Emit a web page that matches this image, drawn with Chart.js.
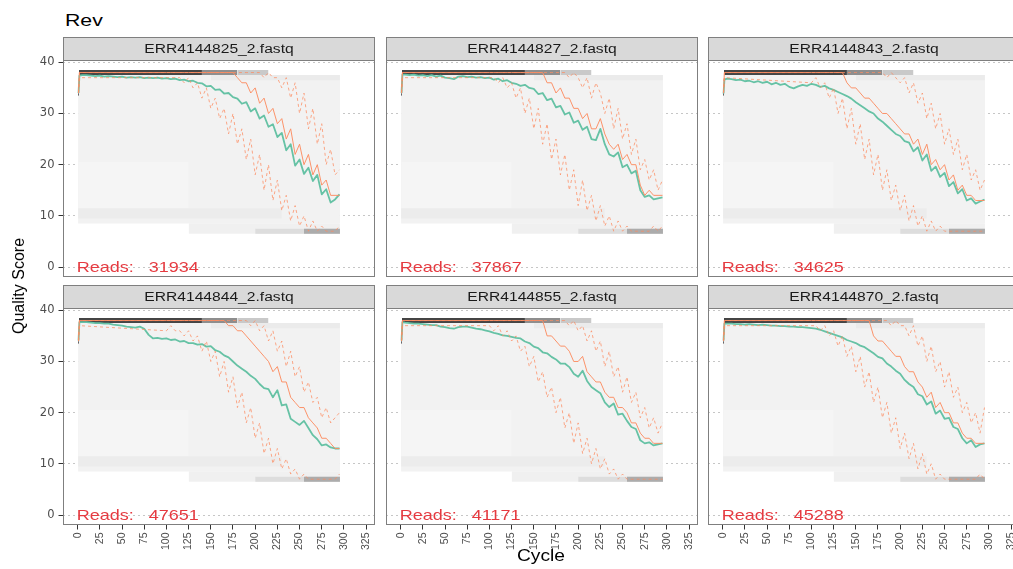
<!DOCTYPE html>
<html>
<head>
<meta charset="utf-8">
<script src="https://cdn.jsdelivr.net/npm/chart.js@4.4.1/dist/chart.umd.min.js"></script>
<style>
html,body{margin:0;padding:0;background:#fff;}
#fig{position:relative;width:1013px;height:569px;overflow:hidden;background:#fff;font-family:"Liberation Sans",Arial,sans-serif;}
#fig canvas{position:absolute;}
.txt{position:absolute;white-space:nowrap;line-height:1;color:#000;}
#title{left:65px;top:12px;font-size:17px;transform:scaleX(1.25);transform-origin:0 0;}
#xlab{left:541px;top:546.6px;font-size:17px;transform:translateX(-50%) scaleX(1.13);}
#ylab{left:19px;top:286px;font-size:16px;transform:translate(-50%,-50%) rotate(-90deg);}
</style>
</head>
<body>
<div id="fig"></div>
<script>
// ---------------- DATA ----------------
const facetLabels = ["ERR4144825_2.fastq","ERR4144827_2.fastq","ERR4144843_2.fastq",
                     "ERR4144844_2.fastq","ERR4144855_2.fastq","ERR4144870_2.fastq"];
const readCounts = [31934, 37867, 34625, 47651, 41171, 45288];

const xTicks = [0,25,50,75,100,125,150,175,200,225,250,275,300,325];
const yTicks = [0,10,20,30,40];

const meanCycles = [1,2,5,10,15,20,25,30,35,40,45,50,55,60,65,70,75,80,85,90,95,100,
  105,110,115,120,125,130,135,140,145,150,155,160,165,170,175,180,185,190,195,200,
  205,210,215,220,225,230,235,240,245,250,255,260,265,270,275,280,285,290,295];

const mean825 = [34.0,37.4, 37.5,37.5,37.4,37.3,37.4,37.2,37.3,37.2,37.1,37.2,
  37.0,37.1,37.0,37.1,36.9,37.0,36.9,37.0,36.8,36.9,
  36.7,36.8,36.5,36.6,36.3,36.4,36.0,35.9,35.3,35.4,
  34.6,34.7,33.9,34.0,33.2,32.9,31.9,32.2,30.4,31.0,
  29.0,29.6,27.4,27.9,25.4,26.2,22.8,24.0,19.8,21.0,
  18.2,19.4,16.8,18.0,14.2,15.2,12.6,13.2,14.2];
const mean827 = [34.0,37.6, 37.6,37.5,37.6,37.4,37.5,37.3,37.5,37.2,37.4,37.0,
  36.9,36.7,37.2,37.3,37.1,37.2,37.0,37.1,36.9,37.0,
  36.6,36.8,36.3,36.5,36.0,35.8,35.4,35.6,35.0,34.8,
  33.8,34.0,32.6,32.9,31.2,31.5,29.8,30.2,28.2,28.6,
  26.8,27.4,25.0,24.8,27.0,24.0,22.0,21.6,22.4,19.5,
  20.0,18.3,18.8,15.0,13.7,14.0,13.2,13.4,13.6];
const mean843 = [33.9,36.6, 36.8,36.7,36.5,36.6,36.3,36.4,36.1,36.3,36.0,36.2,
  35.7,36.0,35.6,35.8,35.2,34.9,35.3,35.6,35.4,35.8,
  35.6,35.2,35.4,34.9,34.6,34.2,33.8,33.4,32.9,32.2,
  31.6,31.0,30.4,30.0,29.0,28.4,27.6,26.8,26.0,25.6,
  24.6,24.3,22.6,23.4,20.8,22.0,18.8,19.6,17.6,18.4,
  15.8,16.6,14.4,15.2,13.0,13.4,12.4,12.8,13.2];
const mean844 = [34.1,37.7, 37.7,37.7,37.6,37.5,37.5,37.4,37.4,37.2,37.1,37.0,
  36.8,36.7,36.6,36.8,36.4,35.2,34.5,34.6,34.4,34.5,
  34.2,34.3,33.9,34.0,33.6,33.6,33.3,33.4,32.9,33.0,
  32.2,31.9,31.2,30.8,30.0,29.2,28.6,28.0,27.2,26.6,
  25.6,24.8,24.6,23.0,24.4,21.4,21.6,18.8,18.2,17.6,
  18.4,17.0,15.6,14.8,13.6,13.8,13.2,13.0,13.0];
const mean855 = [34.1,37.7, 37.6,37.5,37.4,37.4,37.3,37.2,37.1,37.1,36.8,36.7,
  36.5,36.4,36.7,36.8,36.8,36.6,36.4,36.3,36.1,35.9,
  35.6,35.4,35.1,35.0,34.8,34.6,34.5,33.9,33.6,32.9,
  32.6,31.8,31.6,30.9,30.4,29.6,29.6,28.9,27.6,27.0,
  28.2,26.2,25.0,24.4,23.8,22.0,21.1,21.8,19.6,19.8,
  18.4,17.2,16.8,14.6,14.0,14.2,13.6,13.8,14.0];
const mean870 = [34.1,37.4, 37.4,37.4,37.3,37.3,37.2,37.3,37.2,37.1,37.2,37.1,
  37.0,37.0,36.9,36.9,36.8,36.8,36.7,36.7,36.6,36.5,
  36.4,36.2,35.9,35.6,35.3,35.0,34.7,34.2,33.9,33.6,
  33.1,32.8,32.2,31.6,30.9,30.6,29.6,29.0,28.2,27.6,
  26.4,25.6,25.0,23.6,23.2,21.6,22.2,19.8,20.4,18.8,
  19.0,17.2,16.8,15.0,14.0,14.6,13.3,13.8,14.0];

const quantCycles = [1,2,100,105,110,115,120,125,130,135,140,145,150,155,160,165,170,175,
  180,185,190,195,200,205,210,215,220,225,230,235,240,245,250,255,260,265,270,275,280,285,290,295];

const median825 = [34,38, 38,38,38,38,38,38,38,38,38,38,38,38,38,38,38,38,
  37,36,36,34,35,32,33,30,31,28,29,25,27,22,24,20,22,18,20,16,17,14,14,14];
const q25_825 = [34,37, 37,37,37,37,36,37,35,36,33,35,31,33,29,31,26,30,
  24,27,21,25,18,22,15,20,13,17,11,14,9,12,8,10,7,9,7,8,7,7,7,8];
const q75_825 = [34,38, 38,38,38,38,38,38,38,38,38,38,38,38,38,38,38,38,
  38,38,38,38,38,38,37,38,37,37,35,37,33,36,30,34,27,31,24,28,20,23,18,19];

const median827 = [34,38, 38,38,38,38,38,38,38,38,38,38,38,38,38,
  36,36,34,35,33,33,31,31,29,30,27,27,29,26,24,23,24,21,22,20,20,16,14,15,14,14,14];
const q25_827 = [34,37, 37,37,36,37,35,36,33,35,30,33,27,31,24,28,21,25,
  18,22,15,19,12,17,11,14,9,12,8,10,7,9,7,8,7,7,7,7,7,8,7,8];
const q75_827 = [34,38, 38,38,38,38,38,38,38,38,38,38,38,38,38,38,38,38,
  38,38,37,38,37,35,37,33,36,34,30,33,27,31,25,28,22,25,19,21,17,19,15,17];

const median843 = [34,38, 38,38,38,38,38,38,38,38,
  36,35,35,34,33,33,32,31,30,30,29,28,27,26,26,24,25,22,24,20,21,19,20,17,18,15,16,14,14,13,13,13];
const q25_843 = [34,37, 36,37,35,36,33,35,30,33,27,31,24,28,21,25,18,22,
  15,19,13,16,11,14,9,12,8,10,7,9,7,8,7,7,7,7,7,7,7,7,7,7];
const q75_843 = [34,38, 38,38,38,38,38,38,38,38,38,38,38,38,38,38,38,38,
  38,37,38,37,36,37,34,36,32,34,29,32,27,30,24,27,22,25,19,22,17,19,15,17];

const median844 = [34,38, 38,38,38,38,38,38,38,38,38,38,38,38,38,38,
  37,37,36,36,35,34,33,32,31,30,28,29,26,26,23,22,21,21,19,18,17,15,15,14,13,13];
const q25_844 = [34,37, 36,37,36,36,35,36,34,35,32,34,30,32,27,30,24,27,
  21,24,18,21,15,18,12,15,10,13,9,11,8,9,7,8,7,7,7,7,7,7,7,8];
const q75_844 = [34,38, 38,38,38,38,38,38,38,38,38,38,38,38,38,38,38,38,
  38,38,38,37,38,36,37,34,36,32,34,29,32,27,29,24,26,22,23,19,21,18,19,20];

const median855 = [34,38, 38,38,38,38,38,38,38,38,38,38,38,38,38,
  35,35,34,33,33,32,30,30,31,28,27,26,26,24,23,23,21,21,20,18,18,16,15,15,14,14,14];
const q25_855 = [34,37, 37,36,37,35,36,34,35,32,33,29,31,26,28,23,25,20,
  23,17,20,14,18,12,15,10,13,9,11,8,9,7,8,7,7,7,7,7,7,7,7,7];
const q75_855 = [34,38, 38,38,38,38,38,38,38,38,38,38,38,38,38,38,38,38,
  38,38,37,38,36,37,34,36,32,34,29,32,27,29,24,27,22,24,19,21,17,19,16,18];

const median870 = [34,38, 38,38,38,38,38,38,38,38,38,38,38,38,38,38,
  35,34,34,33,32,31,31,29,28,28,26,25,23,24,21,22,20,20,18,18,16,15,15,14,14,14];
const q25_870 = [34,37, 37,37,36,37,35,36,33,35,31,33,28,31,25,28,22,25,
  19,22,16,19,13,16,11,14,9,12,8,10,7,8,7,7,7,7,7,7,7,7,8,7];
const q75_870 = [34,38, 38,38,38,38,38,38,38,38,38,38,38,38,38,38,38,38,
  38,38,37,38,37,37,35,37,33,35,30,33,28,30,25,28,23,25,20,22,18,20,16,21];

// quality-score heat-map tiles: [cycle from, cycle to, quality from, quality to, relative read density]
const tileBands = [
  [0.5, 295.5, 8.5, 37.5, 0.012],
  [0.5, 125, 11.5, 20.5, 0.0],
  [0.5, 230, 9.5, 11.5, 0.035],
  [125, 295.5, 6.5, 8.5, 0.02],
  [200, 295.5, 6.5, 7.5, 0.1],
  [255, 295.5, 6.5, 7.5, 0.3],
  [150, 295.5, 36.5, 37.5, 0.04],
  [0.5, 1.5, 33.5, 34.5, 0.8],
  [1.5, 140, 37.5, 38.5, 0.72],
  [140, 180, 37.5, 38.5, 0.42],
  [180, 215, 37.5, 38.5, 0.18]
];

const meanSeries = [mean825, mean827, mean843, mean844, mean855, mean870];
const medianSeries = [median825, median827, median843, median844, median855, median870];
const q25Series = [q25_825, q25_827, q25_843, q25_844, q25_855, q25_870];
const q75Series = [q75_825, q75_827, q75_843, q75_844, q75_855, q75_870];

// ---------------- LAYOUT / STYLE ----------------
const COL_X = [63, 386, 708];
const ROW_Y = [60, 308];
const PW = 312, PH = 217, STRIP = 23, XAXIS_H = 40, YAXIS_W = 63;
const X_MIN = -16.5, X_MAX = 335, Y_MIN = -1.95, Y_MAX = 40.45;
const SANS = '"Liberation Sans", Arial, sans-serif';

function shade(d) {
  const g = Math.round(245 * (1 - d));
  return 'rgb(' + g + ',' + g + ',' + g + ')';
}

const facetPlugin = {
  id: 'facet',
  afterDatasetsDraw(chart, args, opts) {
    const ctx = chart.ctx, x = chart.scales.x, y = chart.scales.y;
    ctx.save();
    ctx.font = '15px ' + SANS;
    ctx.fillStyle = '#e53a40';
    ctx.textAlign = 'left';
    ctx.textBaseline = 'alphabetic';
    ctx.translate(x.getPixelForValue(0) - 1, y.getPixelForValue(0) + 5.4);
    ctx.scale(1.2, 1);
    ctx.fillText(opts.readsText, 0, 0);
    ctx.restore();
  },
  afterDraw(chart, args, opts) {
    const ctx = chart.ctx, a = chart.chartArea;
    const w = a.right - a.left;
    const st = a.top - opts.stripHeight;
    ctx.save();
    ctx.fillStyle = '#d9d9d9';
    ctx.fillRect(a.left, st, w, opts.stripHeight);
    ctx.strokeStyle = '#7f7f7f';
    ctx.lineWidth = 1;
    ctx.strokeRect(a.left + 0.5, st + 0.5, w - 1, opts.stripHeight);
    ctx.strokeRect(a.left + 0.5, a.top + 0.5, w - 1, a.bottom - a.top - 1);
    ctx.fillStyle = '#1a1a1a';
    ctx.font = '12.5px ' + SANS;
    ctx.textAlign = 'center';
    ctx.textBaseline = 'middle';
    ctx.translate(a.left + w / 2, st + 13);
    ctx.scale(1.25, 1);
    ctx.fillText(opts.label, 0, 0);
    ctx.restore();
  }
};

const fig = document.getElementById('fig');

for (let i = 0; i < 6; i++) {
  const col = i % 3, row = Math.floor(i / 3);
  const w = (col === 0 ? YAXIS_W : 0) + PW;
  const h = STRIP + PH + (row === 1 ? XAXIS_H : 0);
  const cv = document.createElement('canvas');
  cv.width = w; cv.height = h;
  cv.style.left = (col === 0 ? 0 : COL_X[col]) + 'px';
  cv.style.top = (ROW_Y[row] - STRIP) + 'px';
  cv.style.width = w + 'px';
  cv.style.height = h + 'px';
  fig.appendChild(cv);

  const datasets = [];
  tileBands.forEach((b, k) => {
    datasets.push({
      data: [{x: b[0], y: b[3]}, {x: b[1], y: b[3]}],
      fill: {value: b[2]},
      backgroundColor: shade(b[4]),
      borderWidth: 0,
      pointRadius: 0,
      order: 1000 - k
    });
  });
  datasets.push({
    data: meanCycles.map((c, j) => ({x: c, y: meanSeries[i][j]})),
    borderColor: '#66C2A5', borderWidth: 1.8, pointRadius: 0, fill: false, order: 4,
    borderJoinStyle: 'round'
  });
  datasets.push({
    data: quantCycles.map((c, j) => ({x: c, y: q25Series[i][j]})),
    borderColor: 'rgba(252,141,98,0.85)', borderWidth: 0.9, borderDash: [3, 3], pointRadius: 0, fill: false, order: 3
  });
  datasets.push({
    data: quantCycles.map((c, j) => ({x: c, y: medianSeries[i][j]})),
    borderColor: 'rgba(252,141,98,0.95)', borderWidth: 1, pointRadius: 0, fill: false, order: 2
  });
  datasets.push({
    data: quantCycles.map((c, j) => ({x: c, y: q75Series[i][j]})),
    borderColor: 'rgba(252,141,98,0.85)', borderWidth: 0.9, borderDash: [3, 3], pointRadius: 0, fill: false, order: 1
  });

  const xScale = {
    type: 'linear', min: X_MIN, max: X_MAX, bounds: 'data', display: row === 1,
    afterBuildTicks: s => { s.ticks = xTicks.map(v => ({value: v})); },
    ticks: {autoSkip: false, minRotation: 90, maxRotation: 90, padding: 3, color: '#4d4d4d',
            font: {family: SANS, size: 10.5}},
    grid: {display: true, drawOnChartArea: false, drawTicks: true, tickLength: 4.5,
           tickColor: '#333333', tickWidth: 1},
    border: {display: false}
  };
  if (row === 1) {
    xScale.afterFit = s => { s.height = XAXIS_H; s.paddingLeft = 0; s.paddingRight = 0; s.paddingTop = 0; s.paddingBottom = 0; };
  }
  const yScale = {
    type: 'linear', min: Y_MIN, max: Y_MAX, bounds: 'data', display: true,
    afterBuildTicks: s => { s.ticks = yTicks.map(v => ({value: v})); },
    afterFit: s => { s.width = col === 0 ? YAXIS_W : 0; s.paddingLeft = 0; s.paddingRight = 0; s.paddingTop = 0; s.paddingBottom = 0; },
    ticks: {display: col === 0, padding: 4, color: '#4d4d4d', font: {family: '"DejaVu Sans", sans-serif', size: 11.5}},
    grid: {display: true, drawOnChartArea: true, drawTicks: col === 0, tickLength: 4.5,
           color: '#c6c6c6', lineWidth: 1, tickColor: '#333333', tickWidth: 1, tickBorderDash: []},
    border: {display: false, dash: [2, 3]}
  };

  new Chart(cv, {
    type: 'line',
    data: {datasets: datasets},
    options: {
      responsive: false, animation: false, devicePixelRatio: 1, events: [],
      layout: {padding: {top: STRIP, left: 0, right: 0, bottom: 0}, autoPadding: false},
      elements: {line: {tension: 0}, point: {radius: 0}},
      plugins: {
        legend: {display: false}, tooltip: {enabled: false}, title: {display: false},
        facet: {label: facetLabels[i], readsText: 'Reads:   ' + readCounts[i], stripHeight: STRIP}
      },
      scales: {x: xScale, y: yScale}
    },
    plugins: [facetPlugin]
  });
}

const t1 = document.createElement('div'); t1.className = 'txt'; t1.id = 'title'; t1.textContent = 'Rev'; fig.appendChild(t1);
const t2 = document.createElement('div'); t2.className = 'txt'; t2.id = 'ylab'; t2.textContent = 'Quality Score'; fig.appendChild(t2);
const t3 = document.createElement('div'); t3.className = 'txt'; t3.id = 'xlab'; t3.textContent = 'Cycle'; fig.appendChild(t3);
</script>
</body>
</html>
